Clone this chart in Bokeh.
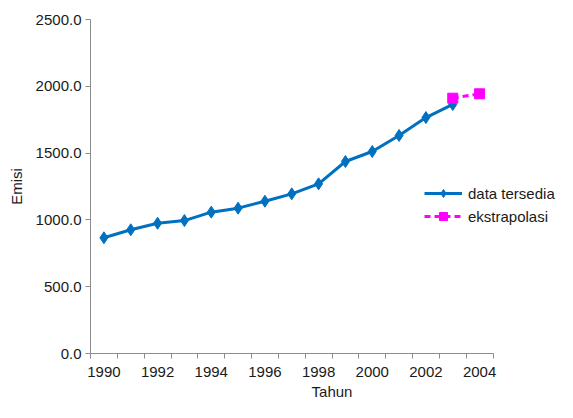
from bokeh.plotting import figure
from bokeh.models import LinearAxis, FixedTicker, NumeralTickFormatter, Range1d, Legend
from bokeh.embed import file_html
from bokeh.resources import INLINE

years = [1990, 1991, 1992, 1993, 1994, 1995, 1996, 1997, 1998, 1999, 2000, 2001, 2002, 2003]
emisi = [866, 926, 975, 995, 1058, 1088, 1140, 1195, 1270, 1437, 1512, 1632, 1766, 1864]
ext_years = [2003, 2004]
ext_emisi = [1911, 1944]
label_years = [1990, 1992, 1994, 1996, 1998, 2000, 2002, 2004]
boundaries = [y - 0.5 for y in range(1990, 2006)]
y_ticks = [0, 500, 1000, 1500, 2000, 2500]

FONT = "Liberation Sans"
BLUE = "#0070C0"
PINK = "#FF00FF"
AXIS = "#8c8c8c"
TXT = "#1a1a1a"
FS = "15px"

p = figure(width=573, height=418, output_backend="svg", toolbar_location=None,
           x_range=Range1d(1989.5, 2007.5), y_range=Range1d(0, 2500),
           min_border_left=90, min_border_right=0, min_border_top=19, min_border_bottom=65)
p.outline_line_color = None
p.grid.visible = False
p.background_fill_color = "white"
p.border_fill_color = "white"

# x axis: tick marks at category boundaries
xa = p.xaxis[0]
xa.ticker = FixedTicker(ticks=boundaries)
xa.bounds = (1989.5, 2004.5)
xa.major_label_text_font_size = "1px"
xa.major_label_text_alpha = 0
xa.major_label_standoff = 0
xa.axis_line_color = AXIS
xa.major_tick_line_color = AXIS
xa.major_tick_out = 5
xa.major_tick_in = 0
xa.minor_tick_line_color = None

# label axis
xl = LinearAxis(ticker=FixedTicker(ticks=label_years), axis_label="Tahun")
xl.bounds = (1989.5, 2004.5)
xl.axis_line_color = None
xl.major_tick_line_color = None
xl.minor_tick_line_color = None
xl.major_label_standoff = 2
xl.major_label_text_font = FONT
xl.major_label_text_font_size = FS
xl.major_label_text_color = TXT
xl.axis_label_text_font = FONT
xl.axis_label_text_font_size = FS
xl.axis_label_text_font_style = "normal"
xl.axis_label_text_color = TXT
xl.axis_label_standoff = 3
p.add_layout(xl, "below")

ya = p.yaxis[0]
ya.ticker = FixedTicker(ticks=y_ticks)
ya.formatter = NumeralTickFormatter(format="0.0")
ya.axis_label = "Emisi"
ya.axis_line_color = AXIS
ya.major_tick_line_color = AXIS
ya.major_tick_out = 5
ya.major_tick_in = 0
ya.minor_tick_line_color = None
ya.major_label_text_font = FONT
ya.major_label_text_font_size = FS
ya.major_label_text_color = TXT
ya.major_label_standoff = 4
ya.axis_label_text_font = FONT
ya.axis_label_text_font_size = FS
ya.axis_label_text_font_style = "normal"
ya.axis_label_text_color = TXT
ya.axis_label_standoff = 8

l1 = p.line(years, emisi, line_color=BLUE, line_width=3)
m1 = p.scatter(years, emisi, marker="diamond", size=12, fill_color=BLUE, line_color=BLUE)
l2 = p.line(ext_years, ext_emisi, line_color=PINK, line_width=3, line_dash="6 4")
m2 = p.scatter(ext_years, ext_emisi, marker="square", size=10, fill_color=PINK, line_color=PINK)

legend = Legend(items=[("data tersedia", [l1, m1]), ("ekstrapolasi", [l2, m2])],
                location=(334, 127))
legend.background_fill_alpha = 0
legend.border_line_color = None
legend.label_text_font = FONT
legend.label_text_font_size = FS
legend.label_text_color = TXT
legend.glyph_width = 38
legend.glyph_height = 20
legend.label_standoff = 6
legend.spacing = 3
legend.padding = 0
legend.margin = 0
p.add_layout(legend, "center")

open("out.html", "w").write(file_html(p, INLINE))
